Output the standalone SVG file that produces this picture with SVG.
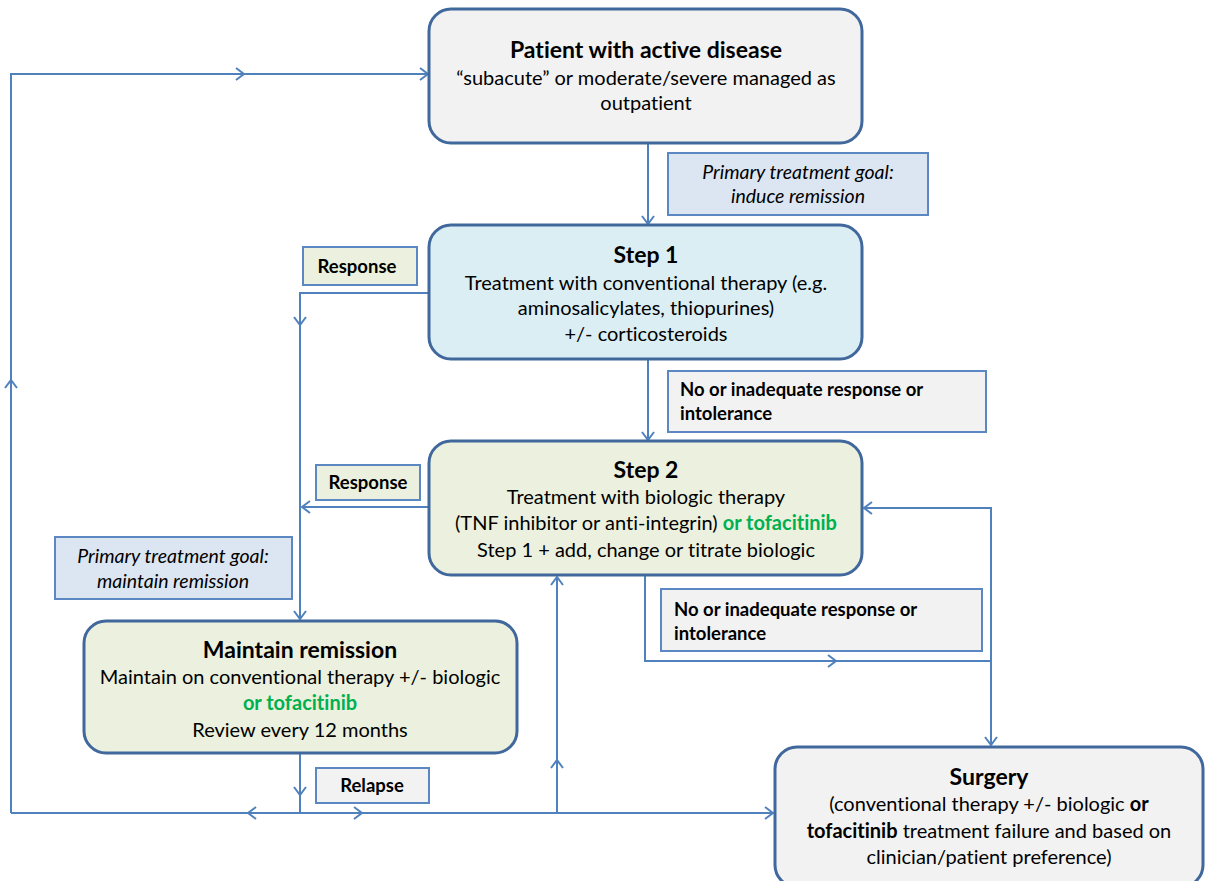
<svg xmlns="http://www.w3.org/2000/svg" width="1205" height="881" viewBox="0 0 1205 881">
<defs>
<marker id="chev" viewBox="0 0 10 14" refX="9" refY="7" markerWidth="10" markerHeight="14" markerUnits="userSpaceOnUse" orient="auto">
<path d="M1,1 L9,7 L1,13" fill="none" stroke="#4F81BD" stroke-width="2"/>
</marker>
</defs>
<style>
text{font-family:Lato,"Liberation Sans",sans-serif;fill:#000;font-variant-ligatures:none;}
.box{stroke:#41689C;stroke-width:3;}
.grey{fill:#F2F2F2;}
.cyan{fill:#DBEEF4;}
.green{fill:#EBF1DE;}
.lbl{stroke:#5B87C3;stroke-width:2;}
.goal{fill:#DCE6F2;}
.t{font-size:23px;font-weight:bold;text-anchor:middle;}
.b{font-size:20px;text-anchor:middle;}
.l{font-size:18.5px;font-weight:bold;}
.i{font-size:19.5px;font-style:italic;text-anchor:middle;}
.g{fill:#00B050;font-weight:bold;}
.c{fill:none;stroke:#4F81BD;stroke-width:2;}
.m{marker-end:url(#chev);}
</style>
<rect width="1205" height="881" fill="#fff"/>
<g id="connectors">
<path class="c m" d="M648,143 L648,224"/>
<path class="c m" d="M648,359 L648,440"/>
<path class="c m" d="M429,293 L300,293 L300,619"/>
<path class="c m" d="M300,315 L300,325"/>
<path class="c m" d="M429,507 L302,507"/>
<path class="c" d="M300,753 L300,813"/>
<path class="c m" d="M300,785 L300,795"/>
<path class="c m" d="M11,813 L773,813"/>
<path class="c m" d="M260,813 L248,813"/>
<path class="c m" d="M350,813 L362,813"/>
<path class="c m" d="M11,813 L11,74 L428,74"/>
<path class="c m" d="M11,392 L11,380"/>
<path class="c m" d="M232,74 L244,74"/>
<path class="c m" d="M557,813 L557,577"/>
<path class="c m" d="M557,772 L557,760"/>
<path class="c m" d="M991,661 L991,508 L864,508"/>
<path class="c m" d="M645,576 L645,661 L991,661 L991,745"/>
<path class="c m" d="M824,661 L836,661"/>
</g>
<g id="patient">
<rect class="box grey" x="429" y="9" width="433" height="134" rx="22"/>
<text class="t" x="646" y="58">Patient with active disease</text>
<text class="b" x="646" y="85">“subacute” or moderate/severe managed as</text>
<text class="b" x="646" y="110">outpatient</text>
</g>
<g id="goal1">
<rect class="lbl goal" x="668" y="153" width="260" height="62"/>
<text class="i" x="798" y="179">Primary treatment goal:</text>
<text class="i" x="798" y="203">induce remission</text>
</g>
<g id="step1">
<rect class="box cyan" x="429" y="225" width="433" height="134" rx="22"/>
<text class="t" x="646" y="263">Step 1</text>
<text class="b" x="646" y="290">Treatment with conventional therapy (e.g.</text>
<text class="b" x="646" y="315">aminosalicylates, thiopurines)</text>
<text class="b" x="646" y="341">+/- corticosteroids</text>
</g>
<g id="label-no1">
<rect class="lbl grey" x="668" y="371" width="318" height="61"/>
<text class="l" x="680" y="396">No or inadequate response or</text>
<text class="l" x="680" y="420">intolerance</text>
</g>
<g id="step2">
<rect class="box green" x="429" y="441" width="433" height="134" rx="22"/>
<text class="t" x="646" y="478">Step 2</text>
<text class="b" x="646" y="504">Treatment with biologic therapy</text>
<text class="b" x="646" y="530">(TNF inhibitor or anti-integrin) <tspan class="g">or tofacitinib</tspan></text>
<text class="b" x="646" y="557">Step 1 + add, change or titrate biologic</text>
</g>
<g id="response1">
<rect class="lbl green" x="303" y="247" width="114" height="38"/>
<text class="l" x="357" y="273" text-anchor="middle">Response</text>
</g>
<g id="response2">
<rect class="lbl green" x="316" y="465" width="104" height="35"/>
<text class="l" x="368" y="489" text-anchor="middle">Response</text>
</g>
<g id="goal2">
<rect class="lbl goal" x="55" y="537" width="237" height="62"/>
<text class="i" x="173" y="563">Primary treatment goal:</text>
<text class="i" x="173" y="588">maintain remission</text>
</g>
<g id="maintain">
<rect class="box green" x="84" y="621" width="433" height="132" rx="22"/>
<text class="t" x="300" y="658">Maintain remission</text>
<text class="b" x="300" y="684">Maintain on conventional therapy +/- biologic</text>
<text class="b g" x="300" y="710">or tofacitinib</text>
<text class="b" x="300" y="737">Review every 12 months</text>
</g>
<g id="label-no2">
<rect class="lbl grey" x="661" y="589" width="321" height="62"/>
<text class="l" x="674" y="616">No or inadequate response or</text>
<text class="l" x="674" y="640">intolerance</text>
</g>
<g id="relapse">
<rect class="lbl grey" x="316" y="768" width="113" height="35"/>
<text class="l" x="372" y="792" text-anchor="middle">Relapse</text>
</g>
<g id="surgery">
<rect class="box grey" x="775" y="747" width="428" height="140" rx="22"/>
<text class="t" x="989" y="785">Surgery</text>
<text class="b" x="989" y="811">(conventional therapy +/- biologic <tspan font-weight="bold">or</tspan></text>
<text class="b" x="989" y="838"><tspan font-weight="bold">tofacitinib</tspan> treatment failure and based on</text>
<text class="b" x="989" y="864">clinician/patient preference)</text>
</g>
</svg>
